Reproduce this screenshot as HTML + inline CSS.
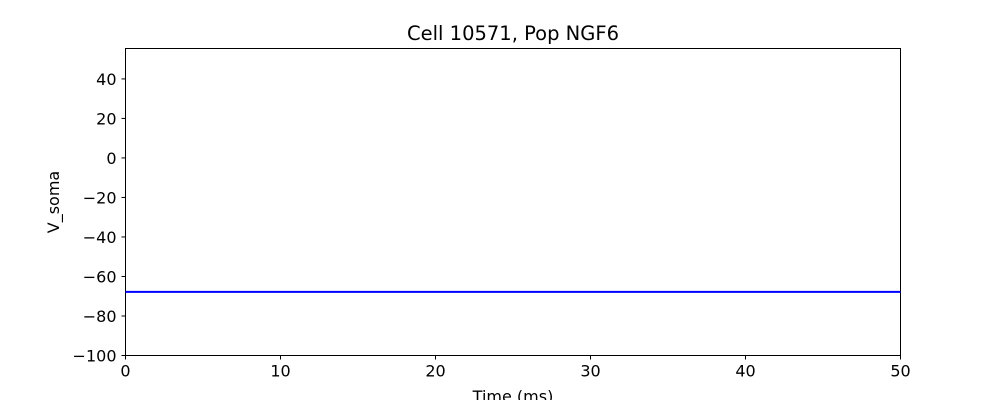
<!DOCTYPE html>
<html><head><meta charset="utf-8"><style>
body{margin:0;background:#fff;}
svg text{font-family:"DejaVu Sans","Liberation Sans",sans-serif;fill:#000;}
</style></head><body>
<svg id="chart" width="1000" height="400"></svg>
<script>
const xTicks=[0,10,20,30,40,50];
const yTicks=[-100,-80,-60,-40,-20,0,20,40];
const timeVals=[0,50];
const vsomaVals=[-67.8,-67.8];
const xMin=0,xMax=50,yMin=-100,yMax=55.4;
const L=125.5,R=900.5,T=48.5,B=355.5;
const sx=v=>L+(v-xMin)/(xMax-xMin)*(R-L);
const sy=v=>B-(v-yMin)/(yMax-yMin)*(B-T);
const svg=document.getElementById('chart');
const NS='http://www.w3.org/2000/svg';
function mk(tag,attrs,parent){const e=document.createElementNS(NS,tag);for(const k in attrs)e.setAttribute(k,attrs[k]);(parent||svg).appendChild(e);return e;}
const frame=mk('rect',{x:L,y:T,width:R-L,height:B-T,fill:'none',stroke:'#000','stroke-width':1});


xTicks.forEach(v=>{
  const l=mk('line',{x1:sx(v),x2:sx(v),y1:B,y2:B+4,stroke:'#000'});
  
  
  const t=mk('text',{x:sx(v),y:B+21,'text-anchor':'middle','font-size':16});
  t.textContent=v;
  
  
});
yTicks.forEach(v=>{
  const l=mk('line',{x1:L-4,x2:L,y1:sy(v),y2:sy(v),stroke:'#000'});
  
  
  const t=mk('text',{x:L-9,y:sy(v)+6,'text-anchor':'end','font-size':16});
  t.textContent=v<0?'\u2212'+Math.abs(v):v;
  
  
});
const pts=timeVals.map((t,i)=>sx(t)+','+sy(vsomaVals[i])).join(' ');
const line=mk('polyline',{points:pts,fill:'none',stroke:'#0000ff','stroke-width':2});


const title=mk('text',{x:(L+R)/2,y:40,'text-anchor':'middle','font-size':19.5});
title.textContent='Cell 10571, Pop NGF6';


const xl=mk('text',{x:(L+R)/2,y:402,'text-anchor':'middle','font-size':16});
xl.textContent='Time (ms)';


const yl=mk('text',{x:0,y:0,'text-anchor':'middle','font-size':16,transform:'translate(59,'+((T+B)/2)+') rotate(-90)'});
yl.textContent='V_soma';


</script>
</body></html>
